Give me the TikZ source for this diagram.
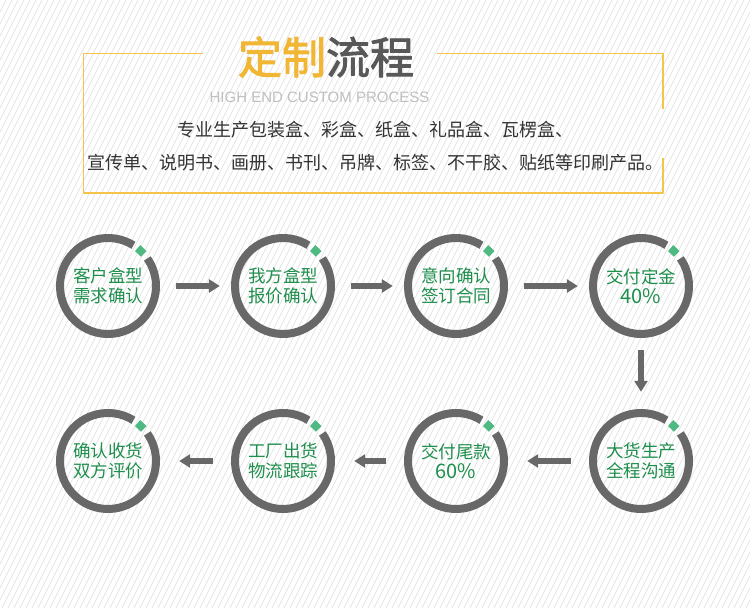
\documentclass[tikz,border=0pt]{standalone}
\usepackage{fontspec}
\usetikzlibrary{arrows.meta,calc}
\newfontfamily\cjk{Noto Sans CJK SC}
\newfontfamily\cjkbold{Noto Sans CJK SC}[FakeBold=2]
\newfontfamily\latinsub{Liberation Sans}
\definecolor{framegold}{RGB}{246,196,72}
\definecolor{titlegold}{RGB}{240,182,52}
\definecolor{titlegray}{RGB}{88,88,88}
\definecolor{ringgray}{RGB}{104,104,104}
\definecolor{markgreen}{RGB}{78,186,130}
\definecolor{textgreen}{RGB}{30,142,76}
\definecolor{hatchgray}{RGB}{228,228,228}

\begin{document}
\begin{tikzpicture}[x=1pt, y=1pt, >={Triangle[width=13pt,length=11pt]}, line join=round,
	stepnode/.style={circle, minimum size=104pt, inner sep=0pt, align=center, text=textgreen,
		font=\cjk\fontsize{17.5pt}{20pt}\selectfont},
	ring/.style={draw=ringgray, line width=8pt},
	flow/.style={draw=ringgray, line width=6pt, ->, shorten <=16pt, shorten >=11pt},
	frameline/.style={draw=framegold, line width=1.5pt}]
	\useasboundingbox (0,0) rectangle (750,608);
	% background hatching
	\begin{scope}
		\clip (0,0) rectangle (750,608);
		\foreach \x in {-310,-304,...,750}
			\draw[hatchgray, line width=0.7pt] (\x,0) -- ++(304,608);
	\end{scope}
	% heading box
	\draw[frameline] (203,554.7) -- (83.3,554.7) -- (83.3,415) -- (663,415) -- (663,450);
	\draw[frameline] (437,554.7) -- (663,554.7) -- (663,499);
	\node[font=\cjkbold\fontsize{44pt}{44pt}\selectfont] (title) at (326,551)
		{\textcolor{titlegold}{定制}\textcolor{titlegray}{流程}};
	\node[font=\latinsub\fontsize{15pt}{15pt}\selectfont, text=black!25] (subtitle) at (319.5,511)
		{HIGH END CUSTOM PROCESS};
	\node[font=\cjk\fontsize{18pt}{18pt}\selectfont, text=black!80] (lineA) at (375,478)
		{专业生产包装盒、彩盒、纸盒、礼品盒、瓦楞盒、};
	\node[font=\cjk\fontsize{18pt}{18pt}\selectfont, text=black!80] (lineB) at (375,445)
		{宣传单、说明书、画册、书刊、吊牌、标签、不干胶、贴纸等印刷产品。};
	% steps
	\node[stepnode] (c1) at (108,322) {客户盒型\\需求确认};
	\node[stepnode] (c2) at (283,322) {我方盒型\\报价确认};
	\node[stepnode] (c3) at (456,322) {意向确认\\签订合同};
	\node[stepnode] (c4) at (641,322) {交付定金\\{\fontsize{20pt}{20pt}\selectfont 40\%}};
	\node[stepnode] (c5) at (641,147) {大货生产\\全程沟通};
	\node[stepnode] (c6) at (456,147) {交付尾款\\{\fontsize{20pt}{20pt}\selectfont 60\%}};
	\node[stepnode] (c7) at (283,147) {工厂出货\\物流跟踪};
	\node[stepnode] (c8) at (108,147) {确认收货\\双方评价};
	\foreach \i in {1,...,8} {
		\draw[ring] (c\i.center) ++(58:48) arc[start angle=58, end angle=395, radius=48];
		\draw[ring, draw=markgreen] (c\i.center) ++(42:48) arc[start angle=42, end angle=52, radius=48];
	}
	% connectors
	\draw[flow] (c1) -- (c2);
	\draw[flow] (c2) -- (c3);
	\draw[flow] (c3) -- (c4);
	\draw[flow, shorten <=12pt, shorten >=17pt] (c4) -- (c5);
	\draw[flow, shorten <=18pt, shorten >=19pt] (c5) -- (c6);
	\draw[flow, shorten <=18pt, shorten >=19pt] (c6) -- (c7);
	\draw[flow, shorten <=18pt, shorten >=19pt] (c7) -- (c8);
\end{tikzpicture}
\end{document}
